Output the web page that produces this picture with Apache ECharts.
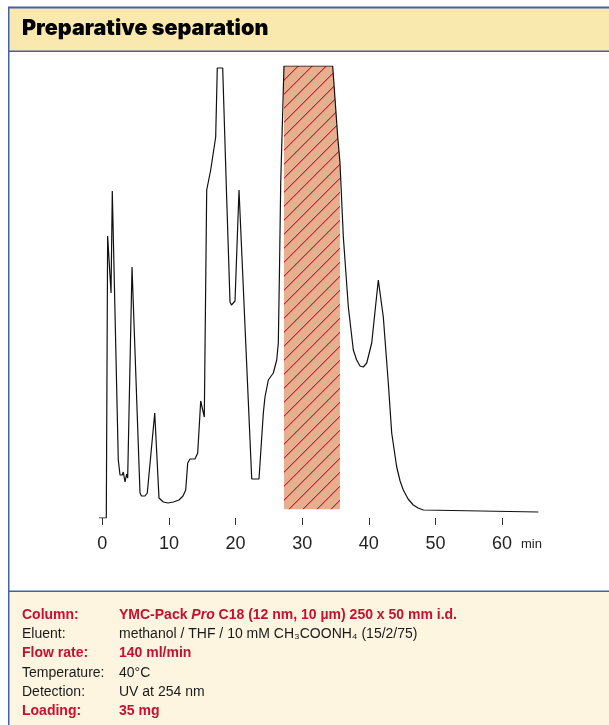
<!DOCTYPE html>
<html>
<head>
<meta charset="utf-8">
<script src="https://cdn.jsdelivr.net/npm/echarts@6/dist/echarts.min.js"></script>
<style>html,body{margin:0;padding:0;background:#fff;}#c{width:609px;height:725px;}</style>
</head>
<body>
<div id="c"></div>
<script>
// ---- data ----
const timeMin = [-0.5, 0.6, 0.72, 0.8, 1.31, 1.5, 2.4, 2.66, 3.0, 3.15, 3.41, 3.66, 3.81, 4.46, 5.66, 5.88, 6.41, 6.75, 7.87, 8.51, 9.16, 9.86, 10.66, 11.51, 12.11, 12.52, 12.82, 13.16, 13.91, 14.32, 14.77, 15.31, 15.67, 16.27, 17.02, 17.26, 18.07, 18.67, 19.17, 19.39, 19.66, 19.92, 20.52, 22.43, 23.52, 24.17, 24.42, 24.92, 25.67, 26.18, 26.42, 26.6, 26.78, 27.27, 34.58, 35.35, 35.67, 36.18, 36.93, 37.68, 38.18, 38.68, 39.18, 39.69, 40.44, 41.43, 42.18, 42.93, 43.44, 44.19, 44.7, 45.18, 45.9, 46.68, 47.4, 48.18, 65.45];
const response = [0, 0, 2, 282, 225, 327, 58, 43, 43, 46, 36, 44, 40, 251, 25, 22, 22, 25, 105, 20, 16, 15, 16, 18, 22, 28, 55, 59, 59, 65, 117, 101, 328, 348, 381, 450, 450, 320, 216, 213, 212, 217, 328, 39, 39, 105, 121, 138, 145, 158, 175, 250, 335, 452, 452, 380, 356, 281, 211, 168, 158, 152, 151, 155, 175, 238, 201, 135, 85, 51, 37, 28, 19, 13, 10, 8, 6];
const fraction = [27.27, 35.67];   // collected fraction (min)
const fractionFloor = 8.7;
const xTicks = [0, 10, 20, 30, 40, 50, 60];
const infoLabels = ['Column:', 'Eluent:', 'Flow rate:', 'Temperature:', 'Detection:', 'Loading:'];
const infoValues = ['{rb|YMC-Pack }{ri|Pro}{rb| C18 (12 nm, 10 µm) 250 x 50 mm i.d.}', 'methanol / THF / 10 mM CH₃COONH₄ (15/2/75)', '140 ml/min', '40°C', 'UV at 254 nm', '35 mg'];
const infoRed = [true, false, true, false, false, true];

// ---- hatch pattern (crisp pixel diagonal) ----
const P = 14;
const pc = document.createElement('canvas');
pc.width = P; pc.height = P;
const g = pc.getContext('2d');
g.fillStyle = '#E6B08E'; g.fillRect(0, 0, P, P);
for (let i = 0; i < P; i++) {
  g.fillStyle = '#D41F3C';
  g.fillRect(i, P - 1 - i, 1, 1);
  g.fillStyle = 'rgba(212,31,60,0.45)';
  g.fillRect(i, (P - i) % P, 1, 1);
}

const chart = echarts.init(document.getElementById('c'), null, {renderer: 'canvas'});
const lineData = timeMin.map(function (t, i) { return [t, response[i]]; });

function interp(t) {
  for (let i = 1; i < timeMin.length; i++) {
    if (t <= timeMin[i]) {
      const a = timeMin[i - 1], b = timeMin[i];
      return response[i - 1] + (response[i] - response[i - 1]) * (t - a) / (b - a);
    }
  }
  return response[response.length - 1];
}

const BLUE = '#4262A6', RED = '#C8102E';
const graphics = [
  {type: 'rect', shape: {x: 9, y: 8, width: 600, height: 43}, style: {fill: '#FAE9AE'}, z: 0},
  {type: 'rect', shape: {x: 9, y: 6.5, width: 600, height: 2}, style: {fill: BLUE}},
  {type: 'rect', shape: {x: 9, y: 50.5, width: 600, height: 1.5}, style: {fill: BLUE}},
  {type: 'rect', shape: {x: 9, y: 591, width: 600, height: 134}, style: {fill: '#FDF5E0'}},
  {type: 'rect', shape: {x: 9, y: 590.5, width: 600, height: 1.5}, style: {fill: BLUE}},
  {type: 'rect', shape: {x: 8, y: 6.5, width: 1.5, height: 720}, style: {fill: BLUE}},
  {type: 'text', left: 22, top: 18, style: {text: 'Preparative separation', font: '900 21.5px Inter, "Liberation Sans", sans-serif', fill: '#000'}},
  {type: 'text', left: 521, top: 538, style: {text: 'min', font: '13px "Liberation Sans", Arial, sans-serif', fill: '#222'}}
];
infoLabels.forEach(function (lab, i) {
  const y = 615 + i * 19.3;
  graphics.push({type: 'text', x: 22, y: y, style: {text: lab, fill: infoRed[i] ? RED : '#1a1a1a', font: (infoRed[i] ? 'bold ' : '') + '14px "Liberation Sans", Arial, sans-serif', verticalAlign: 'middle'}});
  graphics.push({type: 'text', x: 119, y: y, style: {
    text: infoValues[i], fill: infoRed[i] ? RED : '#1a1a1a', verticalAlign: 'middle',
    font: (infoRed[i] ? 'bold ' : '') + '14px "Liberation Sans", Arial, sans-serif',
    rich: {
      rb: {font: 'bold 14px "Liberation Sans", Arial, sans-serif', fill: RED},
      ri: {font: 'italic bold 14px "Liberation Sans", Arial, sans-serif', fill: RED}
    }
  }});
});

chart.setOption({
  animation: false,
  backgroundColor: '#fff',
  grid: {left: 95.64, right: 67, top: 66, bottom: 207},
  xAxis: {
    type: 'value', min: -1, max: 66, offset: 7,
    splitLine: {show: false}, axisLine: {show: false},
    axisTick: {show: true, length: 7, lineStyle: {color: '#333', width: 1}, customValues: xTicks},
    axisLabel: {customValues: xTicks, fontSize: 18, color: '#222', margin: 10, fontFamily: '"Liberation Sans", Arial, sans-serif'}
  },
  yAxis: {type: 'value', min: 0, max: 452, show: false, splitLine: {show: false}},
  graphic: graphics,
  series: [
    {
      type: 'custom', z: 1, silent: true,
      data: [fraction],
      renderItem: function (params, api) {
        const pts = [api.coord([fraction[0], fractionFloor])];
        pts.push(api.coord([fraction[0], interp(fraction[0])]));
        timeMin.forEach(function (t, i) { if (t > fraction[0] && t < fraction[1]) pts.push(api.coord([t, response[i]])); });
        pts.push(api.coord([fraction[1], interp(fraction[1])]));
        pts.push(api.coord([fraction[1], fractionFloor]));
        return {type: 'polygon', shape: {points: pts}, style: {fill: {image: pc, repeat: 'repeat'}, stroke: null, lineWidth: 0}};
      }
    },
    {
      type: 'line', z: 2, data: lineData, showSymbol: false, symbol: 'none',
      lineStyle: {color: '#111', width: 1.2}, smooth: false
    }
  ]
});
</script>
</body>
</html>
